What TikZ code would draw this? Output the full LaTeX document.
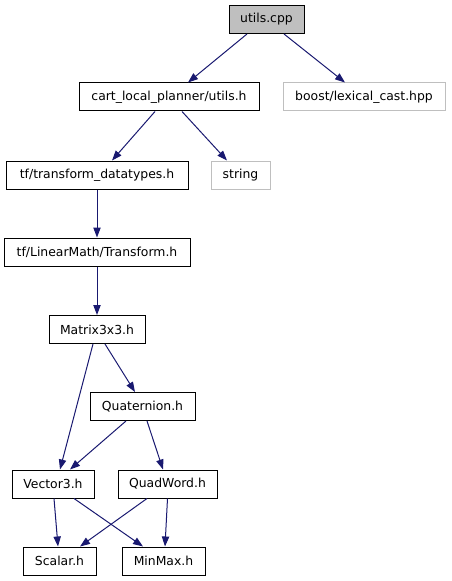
\documentclass[tikz,border=0pt]{standalone}
\usepackage{fontspec}
\setmainfont{DejaVu Sans}
\usepackage{xcolor}
\usepackage{tikz}
\usetikzlibrary{arrows.meta,calc}

\definecolor{edgeblue}{HTML}{191970}
\definecolor{lightgray}{HTML}{BFBFBF}

\begin{document}
\begin{tikzpicture}[
        x=0.75pt, y=-0.75pt,
        file/.style={rectangle, draw=black, line width=0.75pt, minimum height=21pt,
                     inner sep=0pt, font=\fontsize{9.3pt}{11pt}\selectfont},
        ext/.style={file, draw=lightgray},
        root/.style={file, fill=lightgray},
        arrow/.style={-{Triangle[length=7.5pt, width=5.5pt]}, edgeblue, line width=0.75pt}
    ]
        \useasboundingbox (0,0) rectangle (451,581);

        \node[root, minimum width=56.25pt] (cpp) at (266.5,19.5) {utils.cpp};
        \node[file, minimum width=135pt] (utils) at (169,97) {cart\_local\_planner/utils.h};
        \node[ext, minimum width=121.5pt] (boost) at (364,97) {boost/lexical\_cast.hpp};
        \node[file, minimum width=136.5pt] (tfdt) at (97,175) {tf/transform\_datatypes.h};
        \node[ext, minimum width=44.25pt] (string) at (240.5,175) {string};
        \node[file, minimum width=139.5pt] (transform) at (97,252) {tf/LinearMath/Transform.h};
        \node[file, minimum width=72pt] (matrix) at (97,329.5) {Matrix3x3.h};
        \node[file, minimum width=78.75pt] (quat) at (142.5,406.5) {Quaternion.h};
        \node[file, minimum width=61.5pt] (vec) at (53,484) {Vector3.h};
        \node[file, minimum width=74.25pt] (quad) at (167.5,484) {QuadWord.h};
        \node[file, minimum width=54.75pt] (scalar) at (59.5,561) {Scalar.h};
        \node[file, minimum width=62.25pt] (minmax) at (163.5,561) {MinMax.h};

        \draw[arrow] ($(cpp.south)+(-19.5,0)$) -- ($(utils.north)+(19,0)$);
        \draw[arrow] ($(cpp.south)+(17.5,0)$) -- ($(boost.north)+(-19,0)$);
        \draw[arrow] ($(utils.south)+(-14,0)$) -- ($(tfdt.north)+(15,0)$);
        \draw[arrow] ($(utils.south)+(13,0)$) -- ($(string.north)+(-13.5,0)$);
        \draw[arrow] (tfdt) -- (transform);
        \draw[arrow] (transform) -- (matrix);
        \draw[arrow] ($(matrix.south)+(-4,0)$) -- ($(vec.north)+(7,0)$);
        \draw[arrow] ($(matrix.south)+(8,0)$) -- ($(quat.north)+(-7.5,0)$);
        \draw[arrow] ($(quat.south)+(-16.5,0)$) -- ($(vec.north)+(17,0)$);
        \draw[arrow] ($(quat.south)+(4.5,0)$) -- ($(quad.north)+(-4.5,0)$);
        \draw[arrow] ($(vec.south)+(1,0)$) -- ($(scalar.north)+(-1.5,0)$);
        \draw[arrow] ($(vec.south)+(21,0)$) -- ($(minmax.north)+(-20.5,0)$);
        \draw[arrow] ($(quad.south)+(-20.5,0)$) -- ($(scalar.north)+(20.5,0)$);
        \draw[arrow] (quad.south) -- ($(minmax.north)+(1.5,0)$);
    \end{tikzpicture}
\end{document}
